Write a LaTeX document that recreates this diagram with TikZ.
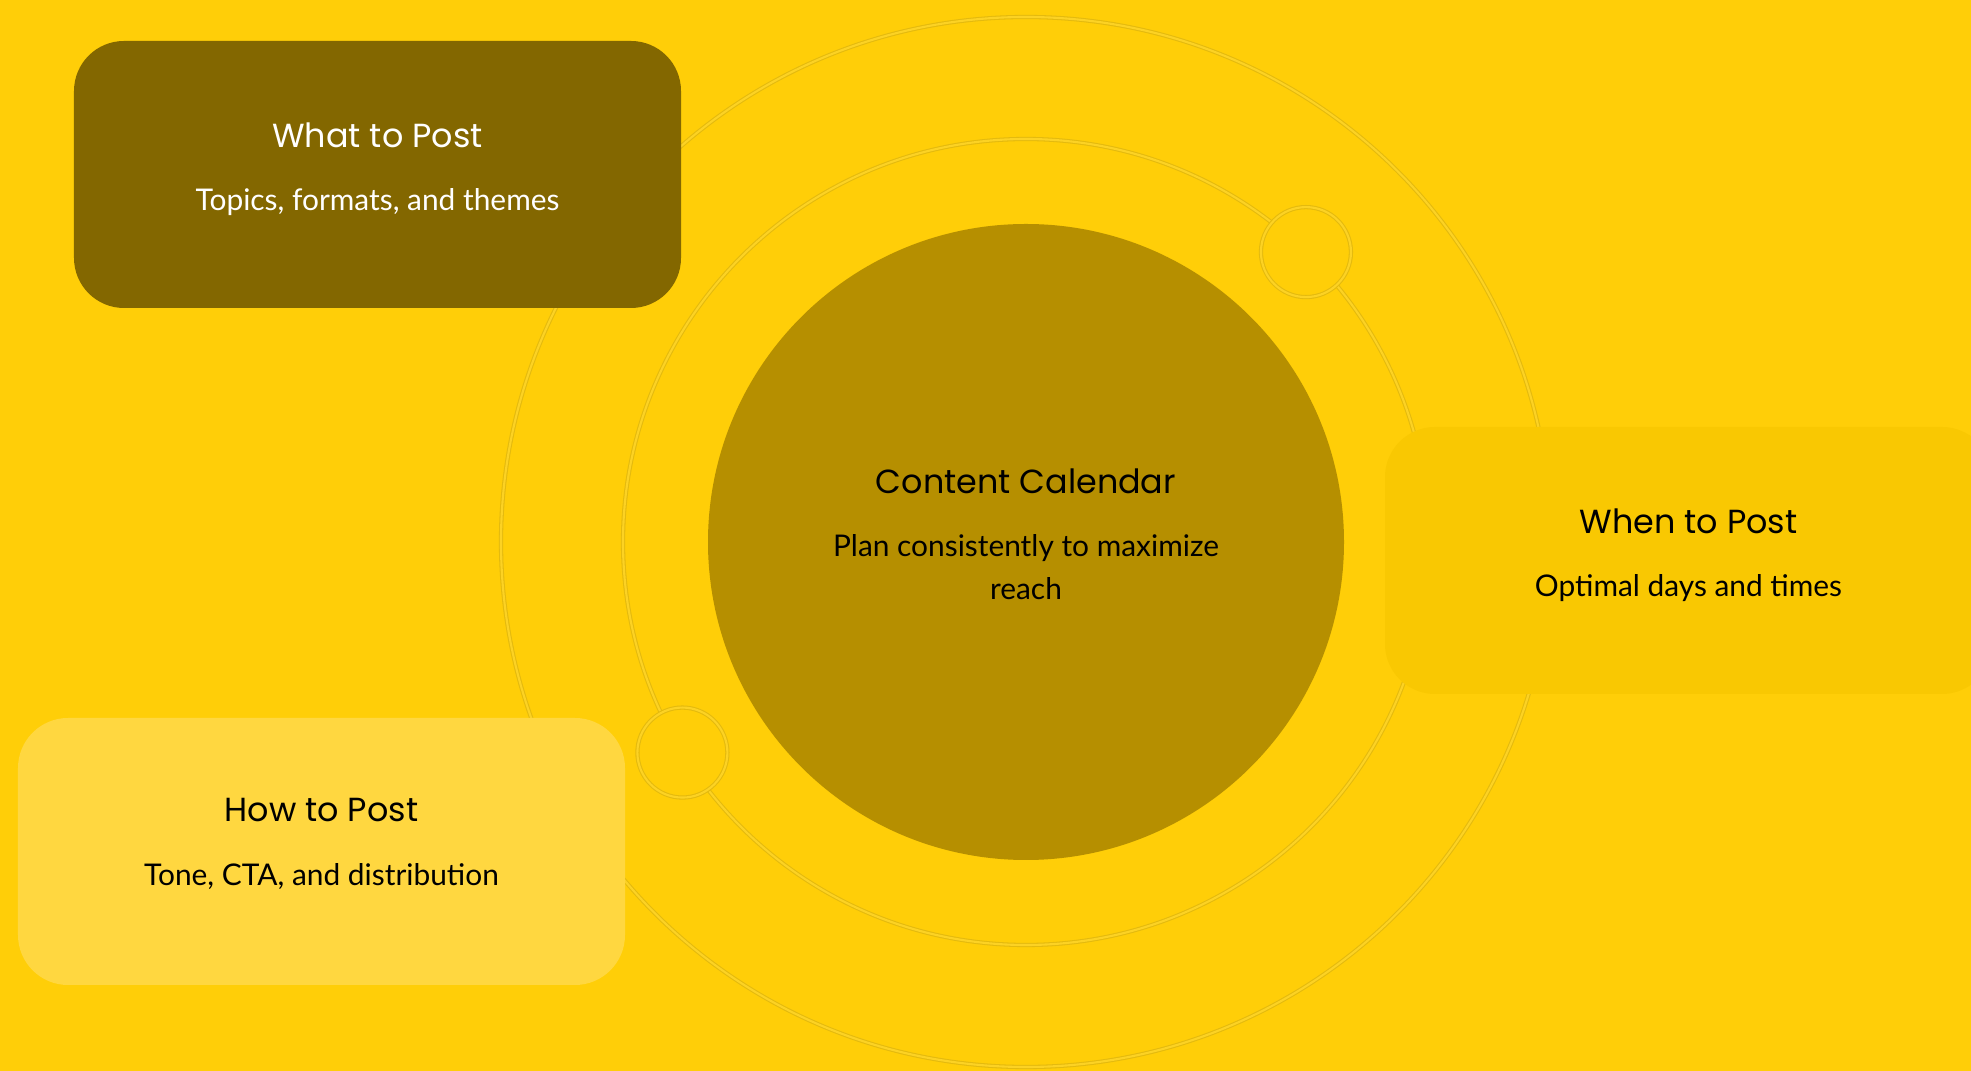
\documentclass[tikz,border=0pt]{standalone}
\usepackage{fontspec}
\setmainfont{Lato}
\newfontfamily\headfont{Poppins}
\usetikzlibrary{calc}
\usetikzlibrary{positioning}

\definecolor{bgyellow}{RGB}{255,206,8}
\definecolor{calcol}{RGB}{182,143,0}
\definecolor{whatcol}{RGB}{131,103,0}
\definecolor{whencol}{RGB}{249,200,2}
\definecolor{howcol}{RGB}{255,215,64}
\definecolor{ringedge}{RGB}{228,186,14}
\definecolor{ringcore}{RGB}{252,210,36}

\begin{document}
\begin{tikzpicture}
	[scale=1.0, every node/.style={scale=1},
	ring/.style = {draw=ringedge, double=ringcore, line width=0.3pt, double distance=0.6pt},
	knot/.style = {circle, ring, fill=bgyellow, minimum size=0.9cm, inner sep=0pt},
	box/.style = {rounded corners=0.5cm, minimum width=6.07cm, minimum height=2.67cm, inner sep=0pt},
	head/.style = {font=\headfont\fontsize{9.5}{11}\selectfont},
	sub/.style = {font=\fontsize{8.5}{12.1}\selectfont, align=center}
	]
	\useasboundingbox (0,0) rectangle (19.71,10.71);
	\clip (0,0) rectangle (19.71,10.71);
	\fill[bgyellow] (0,0) rectangle (19.71,10.71);

	% hub and its two orbits
	\coordinate (o) at (10.26,5.29);
	\draw[ring] (o) circle (5.25);
	\draw[ring] (o) circle (4.03);
	\node[knot] (k1) at ($(o)+(46:4.03)$) {};
	\node[knot] (k2) at ($(o)+(211.5:4.03)$) {};

	\node[circle, fill=calcol, minimum size=6.36cm, inner sep=0pt] (cal) at (o) {};
	\node[head] (calt) at ($(cal.center)+(0,0.61)$) {Content Calendar};
	\node[sub] (cals) at ($(cal.center)+(0,-0.25)$) {Plan consistently to maximize\\reach};

	% the three cards
	\node[box, fill=whatcol] (what) at (3.775,8.965) {};
	\node[head, text=white] (whatt) at ($(what.north)+(0,-0.95)$) {What to Post};
	\node[sub, text=white] (whats) at ($(what.north)+(0,-1.62)$) {Topics, formats, and themes};

	\node[box, fill=whencol] (when) at (16.885,5.105) {};
	\node[head] (whent) at ($(when.north)+(0,-0.95)$) {When to Post};
	\node[sub] (whens) at ($(when.north)+(0,-1.62)$) {Optimal days and times};

	\node[box, fill=howcol] (how) at (3.215,2.195) {};
	\node[head] (howt) at ($(how.north)+(0,-0.93)$) {How to Post};
	\node[sub] (hows) at ($(how.north)+(0,-1.59)$) {Tone, CTA, and distribution};
\end{tikzpicture}
\end{document}
